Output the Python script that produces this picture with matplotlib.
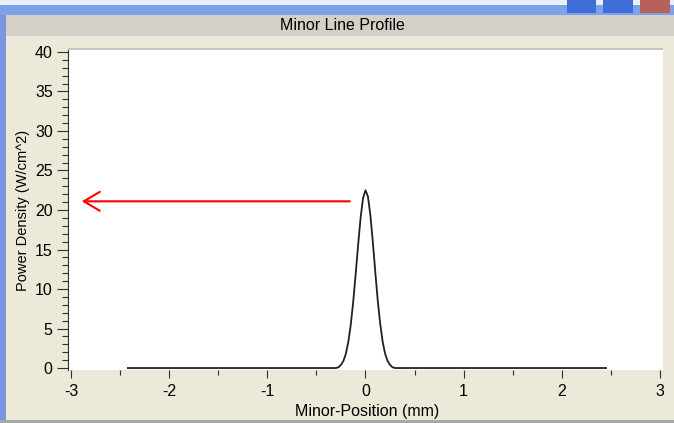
import matplotlib
matplotlib.use("Agg")
import matplotlib.pyplot as plt
from matplotlib.patches import Rectangle
from matplotlib.ticker import MultipleLocator

plt.rcParams['font.family'] = ['Liberation Sans', 'DejaVu Sans']
plt.rcParams['axes.unicode_minus'] = False

x_pos = [-2.42, -0.30, -0.275, -0.25, -0.225, -0.20, -0.175, -0.15, -0.125,
         -0.10, -0.075, -0.05, -0.025, 0.0, 0.025, 0.05, 0.075, 0.10, 0.125,
         0.15, 0.175, 0.20, 0.225, 0.25, 0.275, 0.30, 2.45]
power = [0, 0, 0.1, 0.4, 0.9, 1.8, 3.3, 5.5, 8.4,
         11.9, 15.6, 19.0, 21.5, 22.5, 21.7, 19.3, 15.9, 12.1, 8.5,
         5.6, 3.3, 1.8, 0.9, 0.4, 0.1, 0, 0]

# Flèche rouge : de la pointe du pic vers l'axe y
arrow_tail = (-0.16, 21.1)
arrow_tip = (-2.89, 21.1)

title = 'Minor Line Profile'
xlabel = 'Minor-Position (mm)'
ylabel = 'Power Density (W/cm^2)'

W, H = 674, 423
fig = plt.figure(figsize=(W / 100, H / 100), dpi=100)
fig.patch.set_facecolor('#ECE9D8')


def px_rect(x0, y0, x1, y1, color, z=0):
    # rectangle en pixels (origine en haut à gauche)
    fig.patches.append(Rectangle((x0 / W, 1 - y1 / H), (x1 - x0) / W, (y1 - y0) / H,
                                 transform=fig.transFigure, facecolor=color,
                                 edgecolor='none', zorder=z))


# décor de la fenêtre
px_rect(0, 0, W, 5, '#E8EEFA')
px_rect(0, 5, W, 15, '#7DA2EA')
px_rect(0, 15, W, 36, '#D4D0C8')
px_rect(0, 15, 6, H, '#7B96E0')
px_rect(0, 420, W, H, '#A8A8A8')
px_rect(68, 48, 663, 50, '#C8C6BC')
for x0, x1, c in [(567, 596, '#3D6FD6'), (603, 633, '#3D6FD6'), (640, 670, '#B8605C')]:
    px_rect(x0, 0, x1, 13, c, z=1)

fig.text(342 / W, 1 - 26 / H, title, ha='center', va='center', fontsize=11.5)

ax = fig.add_axes([68 / W, 1 - 370 / H, 595 / W, 320 / H])
ax.set_facecolor('white')
ax.plot(x_pos, power, color='#202020', lw=1.3)
ax.annotate('', xy=arrow_tip, xytext=arrow_tail,
            arrowprops=dict(arrowstyle='->,head_length=1.15,head_width=0.68',
                            color='red', lw=1.5, shrinkA=0, shrinkB=0))

ax.set_xlim(-3.03, 3.03)
ax.set_ylim(-0.25, 40.25)
ax.xaxis.set_major_locator(MultipleLocator(1))
ax.xaxis.set_minor_locator(MultipleLocator(0.5))
ax.yaxis.set_major_locator(MultipleLocator(5))
ax.yaxis.set_minor_locator(MultipleLocator(1))

for s in ['top', 'right', 'bottom']:
    ax.spines[s].set_visible(False)
ax.spines['left'].set_color('#303030')
ax.spines['left'].set_linewidth(0.8)

ax.tick_params(axis='y', which='major', direction='out', length=8, width=0.8,
               color='#303030', pad=3, labelsize=11.5)
ax.tick_params(axis='y', which='minor', direction='out', length=4.3, width=0.8,
               color='#303030')
ax.tick_params(axis='x', which='major', direction='out', length=5.8, width=0.8,
               color='#303030', pad=4, labelsize=11.5)
ax.tick_params(axis='x', which='minor', direction='out', length=3.6, width=0.8,
               color='#303030')

fig.text(367 / W, 1 - 411 / H, xlabel, ha='center', va='center', fontsize=11.5)
fig.text(23 / W, 1 - 210 / H, ylabel, ha='center', va='center', rotation=90,
         fontsize=10.5)

fig.savefig('out.png', dpi=100, facecolor=fig.get_facecolor())
